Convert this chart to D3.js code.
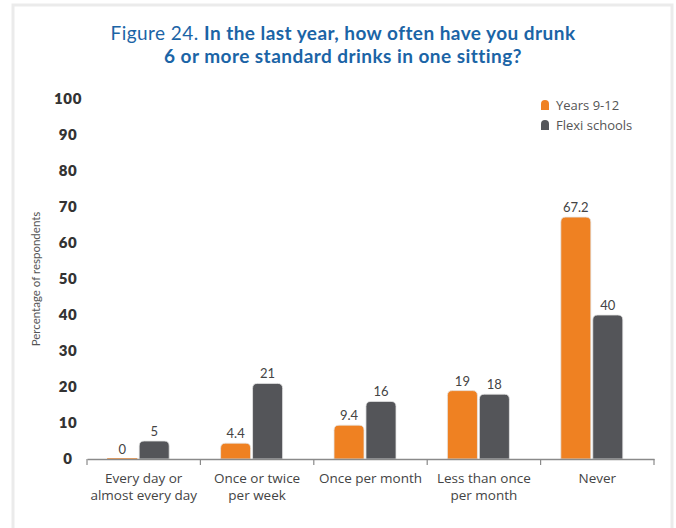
<!DOCTYPE html>
<html>
<head>
<meta charset="utf-8">
<script src="https://cdn.jsdelivr.net/npm/d3@7/dist/d3.min.js"></script>
<style>
  html, body { margin: 0; padding: 0; background: #fff; }
  svg { display: block; font-family: Lato, "Open Sans", sans-serif; }
</style>
</head>
<body>
<svg id="chart" width="676" height="528"></svg>
<script>
// Frequency of drinking 6+ standard drinks in one sitting
const categories = [
  ["Every day or", "almost every day"],
  ["Once or twice", "per week"],
  ["Once per month"],
  ["Less than once", "per month"],
  ["Never"]
];
const seriesNames = ["Years 9-12", "Flexi schools"];
const years912 = [0, 4.4, 9.4, 19, 67.2];
const flexi = [5, 21, 16, 18, 40];
const yTicks = [0, 10, 20, 30, 40, 50, 60, 70, 80, 90, 100];
const seriesColors = ["#ef8122", "#545559"];

const svg = d3.select("#chart");

// card frame
svg.append("rect")
  .attr("x", 13).attr("y", 5).attr("width", 659).attr("height", 540)
  .attr("fill", "#fff").attr("stroke", "#ebebeb").attr("stroke-width", 3);

// title
const title = svg.append("text").attr("text-anchor", "middle").attr("fill", "#1b64a6")
  .attr("font-size", 19).attr("letter-spacing", 0.45);
const t1 = title.append("tspan").attr("x", 343).attr("y", 40);
t1.append("tspan").attr("font-weight", 400).text("Figure 24. ");
t1.append("tspan").attr("font-weight", 700).text("In the last year, how often have you drunk");
title.append("tspan").attr("x", 343).attr("y", 63).attr("font-weight", 700)
  .text("6 or more standard drinks in one sitting?");

const idx = d3.range(categories.length);
const axisX = d3.scaleBand().domain(idx).range([87, 654]);
const barX = d3.scaleBand().domain(idx).range([81.5, 648.5]);
const inner = d3.scaleBand().domain([0, 1]).range([0, 62]).paddingInner(0.06);
const y = d3.scaleLinear().domain([0, 100]).range([459, 99]);

// y tick labels
svg.append("g").selectAll("text").data(yTicks).join("text")
  .attr("x", 68).attr("y", d => y(d)).attr("dy", "0.35em")
  .attr("text-anchor", "middle").attr("font-weight", 800)
  .attr("font-size", 15).attr("letter-spacing", 0.6).attr("fill", "#333")
  .text(d => d);

// y axis title
svg.append("text")
  .attr("transform", "translate(40," + y(50) + ") rotate(-90)")
  .attr("text-anchor", "middle").attr("font-size", 11.5).attr("fill", "#555")
  .text("Percentage of respondents");

// bars with rounded tops
function barPath(x, w, top, bottom) {
  const r = Math.min(5, (bottom - top), w / 2);
  const p = d3.path();
  p.moveTo(x, bottom);
  p.lineTo(x, top + r);
  p.quadraticCurveTo(x, top, x + r, top);
  p.lineTo(x + w - r, top);
  p.quadraticCurveTo(x + w, top, x + w, top + r);
  p.lineTo(x + w, bottom);
  p.closePath();
  return p.toString();
}

const series = [years912, flexi];
const barData = [];
idx.forEach(i => series.forEach((s, k) => barData.push({ i, k, v: s[i] })));
const groupOffset = (barX.bandwidth() - 62) / 2;

svg.append("g").selectAll("path").data(barData).join("path")
  .attr("d", d => {
    const x = barX(d.i) + groupOffset + inner(d.k);
    return barPath(x, inner.bandwidth(), y(d.v), y(0));
  })
  .attr("fill", d => seriesColors[d.k])
  .attr("stroke", d => d.v > 0 ? "#e6e6e6" : seriesColors[d.k])
  .attr("stroke-width", d => d.v > 0 ? 0.8 : 1);

// value labels
svg.append("g").selectAll("text").data(barData).join("text")
  .attr("x", d => barX(d.i) + groupOffset + inner(d.k) + inner.bandwidth() / 2)
  .attr("y", d => y(d.v) - 5)
  .attr("text-anchor", "middle").attr("font-size", 13).attr("fill", "#444")
  .text(d => d.v);

// x axis
const xAxis = d3.axisBottom(axisX).tickSize(0).tickFormat("");
const gx = svg.append("g").attr("transform", "translate(0," + y(0) + ")").call(xAxis);
gx.select(".domain").attr("stroke", "#8a8a8a").attr("stroke-width", 1.5);
// category boundary ticks
const bounds = idx.map(i => axisX(i)).concat([axisX.range()[1]]);
gx.selectAll("line.bound").data(bounds).join("line").attr("class", "bound")
  .attr("x1", d => d).attr("x2", d => d).attr("y1", 0).attr("y2", 6)
  .attr("stroke", "#8a8a8a").attr("stroke-width", 1.2);

// category labels
const cat = svg.append("g").selectAll("text").data(idx).join("text")
  .attr("text-anchor", "middle").attr("font-family", "'Open Sans', sans-serif")
  .attr("font-size", 13.5).attr("fill", "#444");
cat.each(function (i) {
  const t = d3.select(this);
  categories[i].forEach((line, j) => {
    t.append("tspan").attr("x", axisX(i) + axisX.bandwidth() / 2)
      .attr("y", 483 + j * 17).text(line);
  });
});

// legend
const lg = svg.append("g").attr("transform", "translate(541,100)");
seriesNames.forEach((name, k) => {
  lg.append("path").attr("d", barPath(0, 8, k * 20, k * 20 + 10)).attr("fill", seriesColors[k]);
  lg.append("text").attr("x", 15).attr("y", k * 20 + 5).attr("dy", "0.35em")
    .attr("font-family", "'Open Sans', sans-serif")
    .attr("font-size", 13).attr("fill", "#555").text(name);
});
</script>
</body>
</html>
